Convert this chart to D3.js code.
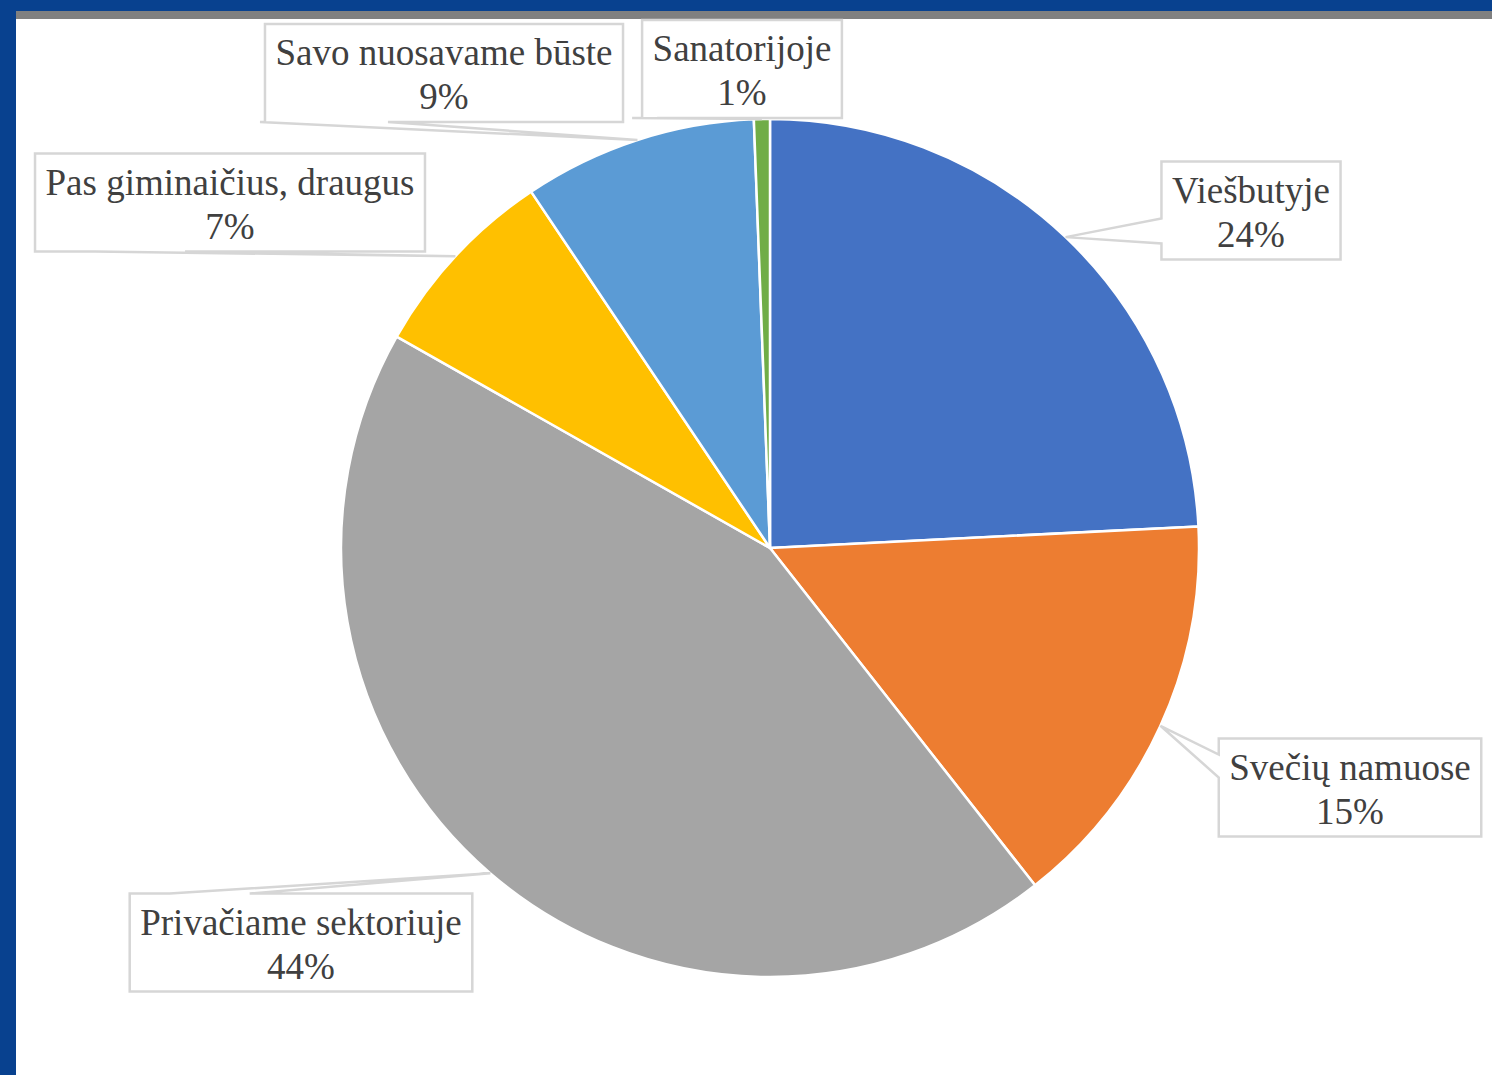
<!DOCTYPE html>
<html>
<head>
<meta charset="utf-8">
<script src="https://cdn.jsdelivr.net/npm/d3@7"></script>
<style>
  html, body { margin: 0; padding: 0; background: #fff; }
  svg { display: block; }
</style>
</head>
<body>
<div id="chart"></div>
<script>
// chart data
var categories = ["Viešbutyje", "Svečių namuose", "Privačiame sektoriuje",
                  "Pas giminaičius, draugus", "Savo nuosavame būste", "Sanatorijoje"];
var values = [24.2, 15.2, 43.8, 7.4, 8.8, 0.6];
var sliceColors = ["#4472C4", "#ED7D31", "#A5A5A5", "#FFC000", "#5B9BD5", "#70AD47"];

// callout layout: box centre, side of the pointer, pointer base offsets
var callouts = [
  {cx: 1251, cy: 210.5, side: "left",   a: [8, 33]},
  {cx: 1350, cy: 787.5, side: "left",   a: [-33, -10]},
  {cx: 301,  cy: 942.5, side: "top",    a: [40, 120]},
  {cx: 230,  cy: 202.5, side: "bottom", a: [60, 150]},
  {cx: 444,  cy: 73,    side: "bottom", a: [-5, 123]},
  {cx: 742,  cy: 69,    side: "bottom", a: [-10, 15]}
];

var width = 1492, height = 1075;
var cx = 770, cy = 548, radius = 429;

var svg = d3.select("#chart").append("svg")
    .attr("width", width)
    .attr("height", height);

svg.append("rect").attr("width", width).attr("height", height).attr("fill", "#fff");

// slide frame
svg.append("rect").attr("x", 0).attr("y", 0).attr("width", width).attr("height", 11).attr("fill", "#08418F");
svg.append("rect").attr("x", 16).attr("y", 11).attr("width", width - 16).attr("height", 8).attr("fill", "#808080");
svg.append("rect").attr("x", 0).attr("y", 0).attr("width", 16).attr("height", height).attr("fill", "#08418F");

var pie = d3.pie().sort(null).value(function(d) { return d; });
var arcs = pie(values);

var arc = d3.arc().innerRadius(0).outerRadius(radius);

var main = svg.append("g").attr("transform", "translate(" + cx + "," + cy + ")");

main.selectAll("path.slice")
  .data(arcs)
  .enter().append("path")
    .attr("class", "slice")
    .attr("d", arc)
    .attr("fill", function(d, i) { return sliceColors[i]; })
    .attr("stroke", "#fff")
    .attr("stroke-width", 2.5)
    .attr("stroke-linejoin", "round");

// callouts
var lab = svg.append("g").attr("class", "labels");

arcs.forEach(function(d, i) {
  var c = callouts[i];
  var mid = (d.startAngle + d.endAngle) / 2;
  var tip = [cx + radius * Math.sin(mid), cy - radius * Math.cos(mid)];

  var g = lab.append("g");
  var path = g.append("path");

  var t1 = g.append("text")
      .attr("x", c.cx).attr("y", c.cy - 8)
      .attr("text-anchor", "middle")
      .style("font-family", "'Liberation Serif', 'Times New Roman', serif")
      .style("font-size", "37px")
      .attr("fill", "#404040")
      .text(categories[i]);
  g.append("text")
      .attr("x", c.cx).attr("y", c.cy + 36)
      .attr("text-anchor", "middle")
      .style("font-family", "'Liberation Serif', 'Times New Roman', serif")
      .style("font-size", "37px")
      .attr("fill", "#404040")
      .text(Math.round(d.value) + "%");

  var w = t1.node().getComputedTextLength() + 21;
  var h = 98;
  var x0 = c.cx - w / 2, x1 = c.cx + w / 2, y0 = c.cy - h / 2, y1 = c.cy + h / 2;

  var p = d3.path();
  if (c.side == "left") {
    p.moveTo(x0, y0); p.lineTo(x1, y0); p.lineTo(x1, y1); p.lineTo(x0, y1);
    p.lineTo(x0, c.cy + c.a[1]); p.lineTo(tip[0], tip[1]); p.lineTo(x0, c.cy + c.a[0]);
    p.closePath();
  } else if (c.side == "top") {
    p.moveTo(x0, y0); p.lineTo(x0 + c.a[0], y0); p.lineTo(tip[0], tip[1]); p.lineTo(x0 + c.a[1], y0);
    p.lineTo(x1, y0); p.lineTo(x1, y1); p.lineTo(x0, y1);
    p.closePath();
  } else {
    p.moveTo(x0, y0); p.lineTo(x1, y0); p.lineTo(x1, y1);
    p.lineTo(x0 + c.a[1], y1); p.lineTo(tip[0], tip[1]); p.lineTo(x0 + c.a[0], y1);
    p.lineTo(x0, y1);
    p.closePath();
  }

  path.attr("d", p.toString())
    .attr("fill", "#fff")
    .attr("stroke", "#D6D6D6")
    .attr("stroke-width", 2.5)
    .attr("stroke-linejoin", "miter");
});
</script>
</body>
</html>
